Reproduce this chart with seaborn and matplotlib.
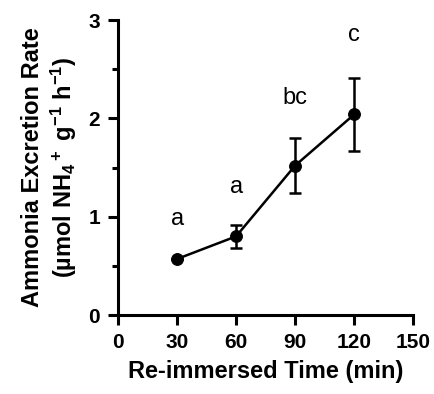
import pandas as pd
import matplotlib.pyplot as plt
import seaborn as sns
from matplotlib.ticker import MultipleLocator

# Data
time_min = [30, 60, 90, 120]
rate = [0.57, 0.80, 1.52, 2.04]
rate_err = [0.0, 0.12, 0.28, 0.37]
letters = ['a', 'a', 'bc', 'c']
letter_y = [0.98, 1.30, 2.21, 2.85]

df = pd.DataFrame({'time': time_min, 'rate': rate, 'err': rate_err})

sns.set_style('ticks')
plt.rcParams['font.family'] = ['Liberation Sans', 'DejaVu Sans']
plt.rcParams['mathtext.fontset'] = 'custom'
plt.rcParams['mathtext.rm'] = 'Liberation Sans:bold'
plt.rcParams['mathtext.default'] = 'rm'
# plain black everywhere (seaborn uses dark grey by default)
for key in ['text.color', 'axes.labelcolor', 'xtick.color', 'ytick.color', 'axes.edgecolor']:
    plt.rcParams[key] = 'black'

fig = plt.figure(figsize=(4.34, 3.94), dpi=100)
ax = fig.add_axes([0.272, 0.2005, 0.68, 0.7485])

# error bars first, then line + markers on top
ax.errorbar(df['time'], df['rate'], yerr=df['err'], fmt='none', ecolor='black',
            elinewidth=1.8, capsize=4.5, capthick=1.8, zorder=2)
sns.lineplot(data=df, x='time', y='rate', ax=ax, color='black', linewidth=1.8,
             marker='o', markersize=8.5, markeredgecolor='black', zorder=3)

# significance letters
for x, y, t in zip(time_min, letter_y, letters):
    ax.text(x, y, t, ha='center', va='center', fontsize=17, color='black')

ax.set_xlim(0, 150)
ax.set_ylim(0, 3)
ax.xaxis.set_major_locator(MultipleLocator(30))
ax.yaxis.set_major_locator(MultipleLocator(1))
ax.yaxis.set_minor_locator(MultipleLocator(0.5))

for side in ['left', 'bottom']:
    ax.spines[side].set_linewidth(2.2)
    ax.spines[side].set_color('black')
sns.despine(ax=ax)
ax.tick_params(which='major', width=2.2, length=7, labelsize=15, pad=6, colors='black')
ax.tick_params(which='minor', width=2.2, length=4.5, colors='black')
for lab in ax.get_xticklabels() + ax.get_yticklabels():
    lab.set_fontweight('bold')

ax.set_xlabel('Re-immersed Time (min)', fontsize=17, fontweight='bold', labelpad=6)
ax.set_ylabel('Ammonia Excretion Rate\n(µmol NH$_4$$^+$ g$^{-1}$ h$^{-1}$)',
              fontsize=17, fontweight='bold', labelpad=7, linespacing=1.2)

plt.savefig('out.png', dpi=100)
